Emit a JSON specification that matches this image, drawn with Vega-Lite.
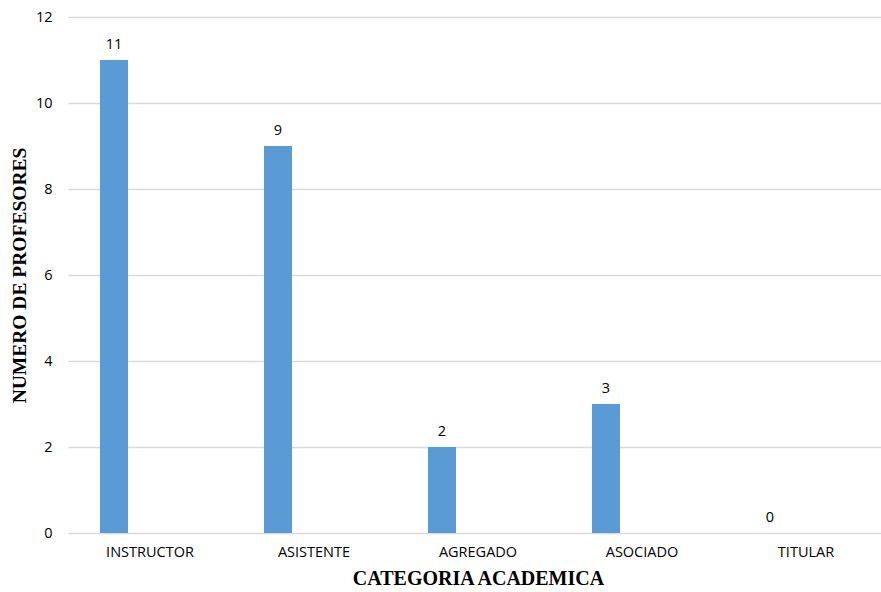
{
  "$schema": "https://vega.github.io/schema/vega-lite/v6.json",
  "width": 813,
  "height": 516,
  "autosize": {"type": "none"},
  "padding": {"left": 68, "top": 17, "right": 0, "bottom": 59},
  "background": "white",
  "data": {"values": [
    {"categoria": "INSTRUCTOR", "profesores": 11},
    {"categoria": "ASISTENTE", "profesores": 9},
    {"categoria": "AGREGADO", "profesores": 2},
    {"categoria": "ASOCIADO", "profesores": 3},
    {"categoria": "TITULAR", "profesores": 0}
  ]},
  "encoding": {
    "x": {
      "field": "categoria", "type": "nominal", "sort": null,
      "scale": {"range": [0, 820], "paddingInner": 0, "paddingOuter": 0},
      "axis": {
        "title": "CATEGORIA ACADEMICA",
        "titleFont": "Liberation Serif", "titleFontSize": 20, "titleFontWeight": "bold", "titleColor": "#000000",
        "titlePadding": 10,
        "labelFont": "Open Sans", "labelFontSize": 14.5, "labelColor": "#000000", "labelAngle": 0,
        "labelPadding": 12, "ticks": false, "domain": false, "grid": false
      }
    },
    "y": {
      "field": "profesores", "type": "quantitative",
      "scale": {"domain": [0, 12], "nice": false},
      "axis": {
        "title": "NUMERO DE PROFESORES",
        "titleFont": "Liberation Serif", "titleFontSize": 19.5, "titleFontWeight": "bold", "titleColor": "#000000",
        "titlePadding": 6,
        "values": [0, 2, 4, 6, 8, 10, 12],
        "labelFont": "Open Sans", "labelFontSize": 14.5, "labelColor": "#000000",
        "labelPadding": 16, "ticks": false, "domain": false,
        "grid": true, "gridColor": "#d9d9d9", "gridWidth": 1.5
      }
    }
  },
  "layer": [
    {"mark": {"type": "bar", "width": 28, "xOffset": -36, "color": "#5b9bd5"}},
    {
      "mark": {"type": "text", "xOffset": -36, "dy": -8, "baseline": "bottom", "font": "Open Sans", "fontSize": 14.5, "color": "#000000"},
      "encoding": {"text": {"field": "profesores", "type": "quantitative"}}
    }
  ],
  "config": {"view": {"stroke": null}}
}
